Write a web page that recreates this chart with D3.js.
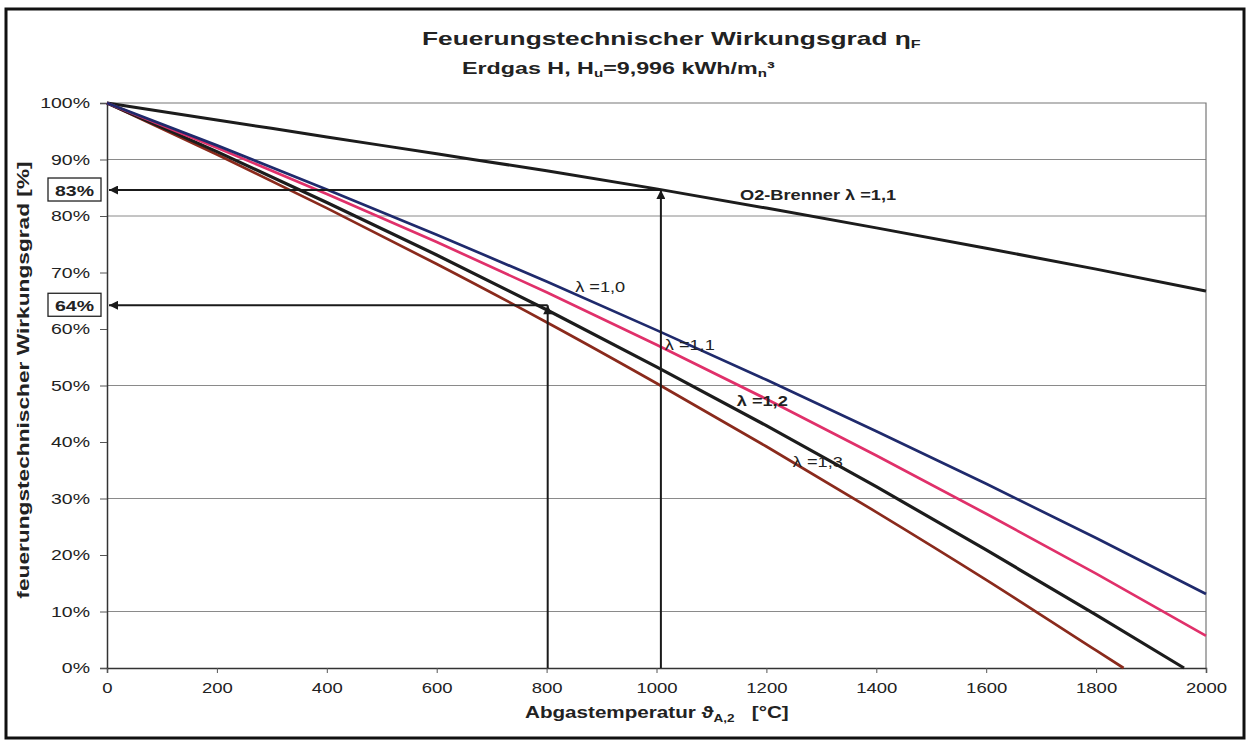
<!DOCTYPE html>
<html>
<head>
<meta charset="utf-8">
<script src="https://cdn.jsdelivr.net/npm/d3@7"></script>
<style>
    body { margin: 0; background: #fff; }
    svg text { font-family: "Liberation Sans", Arial, sans-serif; fill: #222; }
</style>
</head>
<body>
<svg id="chart" width="1250" height="744"></svg>
<script>
// flue gas temperature [°C] and firing efficiency [%]
const tempC = [0, 200, 400, 600, 800, 1000, 1200, 1400, 1600, 1800, 2000];
const tempC12 = [0, 200, 400, 600, 800, 1000, 1200, 1400, 1600, 1800, 1960];
const tempC13 = [0, 200, 400, 600, 800, 1000, 1200, 1400, 1600, 1800, 1850];

const etaO2 = [100, 97.0, 94.0, 91.0, 88.0, 84.8, 81.4, 77.9, 74.3, 70.6, 66.7];
const eta10 = [100, 92.5, 84.7, 76.7, 68.4, 59.8, 51.0, 41.9, 32.6, 23.0, 13.1];
const eta11 = [100, 92.1, 83.9, 75.4, 66.5, 57.2, 47.6, 37.6, 27.3, 16.7, 5.7];
const eta12 = [100, 91.4, 82.4, 73.1, 63.4, 53.3, 42.9, 32.1, 20.9, 9.4, 0];
const eta13 = [100, 90.9, 81.4, 71.5, 61.2, 50.4, 39.2, 27.6, 15.6, 3.1, 0];

const xTicks = [0, 200, 400, 600, 800, 1000, 1200, 1400, 1600, 1800, 2000];
const yTicks = [0, 10, 20, 30, 40, 50, 60, 70, 80, 90, 100];
const gridPct = [10, 30, 50, 80, 90];

// reading examples: temperature -> efficiency, label in box
const readTemp = [1008, 802];
const readEta = [84.6, 64.2];
const readLabel = ["83%", "64%"];

const STRETCH = 1.3; // the scanned text is wider than it is tall

const svg = d3.select("#chart");
const x = d3.scaleLinear().domain([0, 2000]).range([107, 1206]);
const y = d3.scaleLinear().domain([0, 100]).range([668, 103]);

// outer frame
svg.append("rect")
    .attr("x", 6).attr("y", 9).attr("width", 1238).attr("height", 729)
    .attr("fill", "none").attr("stroke", "#111").attr("stroke-width", 3);

// grid
svg.append("g").selectAll("line")
    .data(gridPct)
    .enter().append("line")
    .attr("x1", x(0)).attr("x2", x(2000))
    .attr("y1", d => y(d)).attr("y2", d => y(d))
    .attr("stroke", "#8a8a8a").attr("stroke-width", 1);

// plot border top / right
svg.append("path")
    .attr("d", `M${x(0)},${y(100)}H${x(2000)}V${y(0)}`)
    .attr("fill", "none").attr("stroke", "#777").attr("stroke-width", 1.2);

// axes
const yAxis = svg.append("g")
    .attr("transform", `translate(${x(0)},0)`)
    .call(d3.axisLeft(y).tickValues(yTicks).tickFormat(d => d + "%").tickSize(7).tickPadding(10));
const xAxis = svg.append("g")
    .attr("transform", `translate(0,${y(0)})`)
    .call(d3.axisBottom(x).tickValues(xTicks).tickFormat(d3.format("d")).tickSize(5).tickPadding(9));

[yAxis, xAxis].forEach(g => {
    g.select(".domain").attr("stroke", "#333").attr("stroke-width", 1.5);
    g.selectAll(".tick line").attr("stroke", "#555");
    g.selectAll("text").attr("font-size", 15).attr("fill", "#333");
});
yAxis.selectAll(".tick text")
    .attr("x", -17 / STRETCH)
    .attr("transform", `scale(${STRETCH},1)`);
xAxis.selectAll(".tick text")
    .attr("transform", `scale(${STRETCH * 0.95},1)`);

// curves
const line = d3.line().x(d => x(d[0])).y(d => y(d[1])).curve(d3.curveMonotoneX);
const series = [
    { t: tempC, v: etaO2, color: "#1c1c1c", w: 3 },
    { t: tempC13, v: eta13, color: "#8a2a1c", w: 2.7 },
    { t: tempC12, v: eta12, color: "#1c1c1c", w: 3.2 },
    { t: tempC, v: eta11, color: "#e0306a", w: 2.7 },
    { t: tempC, v: eta10, color: "#1f2a6c", w: 2.7 }
];
svg.append("g").selectAll("path")
    .data(series)
    .enter().append("path")
    .attr("d", s => line(s.t.map((t, i) => [t, s.v[i]])))
    .attr("fill", "none")
    .attr("stroke", s => s.color)
    .attr("stroke-width", s => s.w);

// reading arrows
const defs = svg.append("defs");
defs.append("marker")
    .attr("id", "head")
    .attr("viewBox", "0 0 10 10")
    .attr("refX", 10).attr("refY", 5)
    .attr("markerWidth", 12).attr("markerHeight", 9)
    .attr("markerUnits", "userSpaceOnUse")
    .attr("orient", "auto")
    .append("path").attr("d", "M0,0L10,5L0,10Z").attr("fill", "#1a1a1a");

const reads = svg.append("g");
readTemp.forEach((t, i) => {
    reads.append("line")
        .attr("x1", x(t)).attr("y1", y(0))
        .attr("x2", x(t)).attr("y2", y(readEta[i]))
        .attr("stroke", "#1a1a1a").attr("stroke-width", 2)
        .attr("marker-end", "url(#head)");
    reads.append("line")
        .attr("x1", x(t)).attr("y1", y(readEta[i]))
        .attr("x2", x(0) + 2).attr("y2", y(readEta[i]))
        .attr("stroke", "#1a1a1a").attr("stroke-width", 2)
        .attr("marker-end", "url(#head)");
    reads.append("rect")
        .attr("x", 48).attr("y", y(readEta[i]) - 12)
        .attr("width", 53).attr("height", 23)
        .attr("fill", "#fff").attr("stroke", "#222").attr("stroke-width", 1.3);
    reads.append("text")
        .attr("transform", `translate(74.5,${y(readEta[i]) + 5.5}) scale(${STRETCH},1)`)
        .attr("text-anchor", "middle")
        .attr("font-size", 15).attr("font-weight", "bold")
        .text(readLabel[i]);
});

// curve labels (placed in data coordinates)
function label(t, eta, bold) {
    return svg.append("text")
        .attr("transform", `translate(${x(t)},${y(eta)}) scale(${STRETCH},1)`)
        .attr("font-size", 14)
        .attr("font-weight", bold ? "bold" : "normal");
}
label(1152, 82.8, true).text("O2-Brenner λ =1,1");
label(852, 66.5, false).text("λ =1,0");
label(1015, 56.3, false).text("λ =1,1");
label(1146, 46.4, true).text("λ =1,2");
label(1248, 35.6, false).text("λ =1,3");

// titles
const t1 = svg.append("text")
    .attr("transform", `translate(422,45) scale(1.46,1)`)
    .attr("font-size", 18).attr("font-weight", "bold");
t1.append("tspan").text("Feuerungstechnischer Wirkungsgrad η");
t1.append("tspan").attr("font-size", 11).attr("dy", 3).text("F");

const t2 = svg.append("text")
    .attr("transform", `translate(462,74) scale(1.37,1)`)
    .attr("font-size", 17).attr("font-weight", "bold");
t2.append("tspan").text("Erdgas H, H");
t2.append("tspan").attr("font-size", 11).attr("dy", 3).text("u");
t2.append("tspan").attr("dy", -3).text("=9,996 kWh/m");
t2.append("tspan").attr("font-size", 11).attr("dy", 3).text("n");
t2.append("tspan").attr("dy", -3).text("³");

// axis titles
svg.append("text")
    .attr("transform", `translate(29,380) rotate(-90) scale(1.42,1)`)
    .attr("text-anchor", "middle")
    .attr("font-size", 16).attr("font-weight", "bold")
    .text("feuerungstechnischer Wirkungsgrad [%]");

const xt = svg.append("text")
    .attr("transform", `translate(525,718) scale(1.29,1)`)
    .attr("font-size", 16).attr("font-weight", "bold");
xt.append("tspan").text("Abgastemperatur ϑ");
xt.append("tspan").attr("font-size", 10.5).attr("dy", 4).text("A,2");
xt.append("tspan").attr("dy", -4).attr("xml:space", "preserve").text("   [°C]");
</script>
</body>
</html>
